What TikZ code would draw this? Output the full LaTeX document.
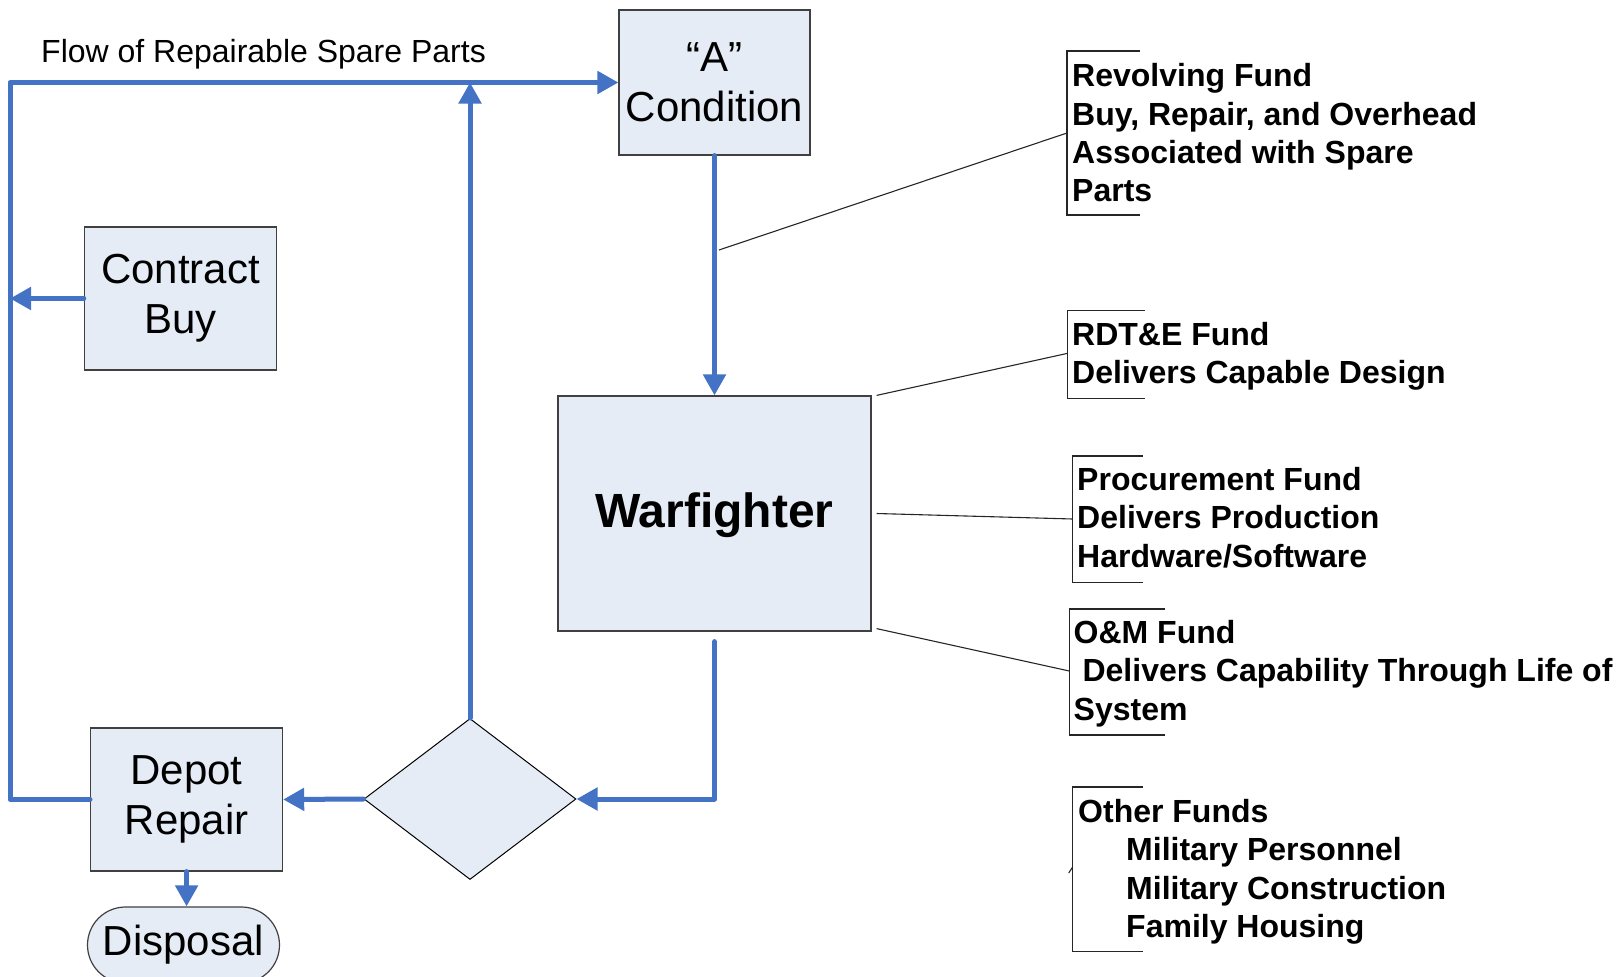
\documentclass[tikz,border=0pt]{standalone}
\usepackage{fontspec}
\setmainfont{Liberation Sans}
\usetikzlibrary{arrows.meta,shapes.geometric}

\definecolor{flowblue}{RGB}{68,114,196}
\definecolor{boxfill}{RGB}{230,236,246}

\tikzset{
    box/.style={draw=black!75, line width=1.2pt, fill=boxfill, align=center,
        inner sep=0pt, font=\fontsize{42}{50}\selectfont},
    flow/.style={draw=flowblue, line width=5pt, line cap=round, line join=round,
        -{Triangle[length=21pt,width=22pt]}},
    note/.style={anchor=north west, align=left, inner sep=0pt,
        font=\bfseries\fontsize{32}{38.4}\selectfont},
    leader/.style={draw=black!85, line width=1.1pt},
}

\begin{document}
\begin{tikzpicture}[x=1pt,y=-1pt]
        \useasboundingbox (0,0) rectangle (1617,977);

        % Draw the boxes
        \node[box, minimum width=191pt, minimum height=145pt] (cond) at (714.5,82.5) {“A”\\Condition};
        \node[box, minimum width=192pt, minimum height=143pt] (buy) at (180.4,298.5) {Contract\\Buy};
        \node[box, minimum width=313pt, minimum height=235pt, text depth=6pt,
            font=\bfseries\fontsize{48}{58}\selectfont] (warf) at (714.5,513.5) {Warfighter};
        \node[box, minimum width=192pt, minimum height=143pt] (dep) at (186.6,799.5) {Depot\\Repair};
        \node[box, minimum width=192pt, minimum height=76pt, rounded corners=38pt] (disp) at (183.5,945) {Disposal};
        \node[box, diamond, draw=black, line width=1pt, aspect=1.317,
            minimum width=212pt, minimum height=161pt] (dia) at (470,799) {};

        \node[anchor=base west, inner sep=0pt, font=\fontsize{32}{38}\selectfont] (flowlbl) at (41,62.7) {Flow of Repairable Spare Parts};

        % Draw the flow of spare parts
        \coordinate (rail) at (10,82.5);
        \draw[flow] (dep.west) -- (dep.west -| rail) -- (rail) -- (cond.west);
        \draw[flow] (buy.west) -- (buy.west -| rail);
        \draw[flow] (dia.north) -- (dia.north |- cond.west);
        \draw[flow] (cond.south) -- (warf.north);
        \draw[flow] ([yshift=-10pt]warf.south) |- (dia.east);
        \draw[flow] (dia.west) -- (dep.east);
        \draw[flow] (dep.south) -- (dep.south |- disp.north);

        % Fund notes
        \node[note] (rev) at (1072,63.4) {Revolving Fund\\Buy, Repair, and Overhead\\Associated with Spare\\Parts};
        \node[note] (rdte) at (1072,322) {RDT\&E Fund\\Delivers Capable Design};
        \node[note] (proc) at (1077,467) {Procurement Fund\\Delivers Production\\Hardware/Software};
        \node[note] (om) at (1073.5,620) {O\&M Fund\\~Delivers Capability Through Life of\\System};
        \node[note] (other) at (1078,799) {Other Funds\\\hspace*{48pt}Military Personnel\\\hspace*{48pt}Military Construction\\\hspace*{48pt}Family Housing};

        % Brackets round the notes
        \draw[leader] (1140,51) -- (1067,51) -- (1067,215) -- (1140,215);
        \draw[leader] (1145,310.7) -- (1067.7,310.7) -- (1067.7,398.3) -- (1145,398.3);
        \draw[leader] (1142.7,456) -- (1072.7,456) -- (1072.7,582.7) -- (1142.7,582.7);
        \draw[leader] (1165,609) -- (1069.3,609) -- (1069.3,735) -- (1165,735);
        \draw[leader] (1142.7,787) -- (1072.7,787) -- (1072.7,951.7) -- (1142.7,951.7);

        % Leader lines
        \coordinate (revmid) at (1067,133);
        \coordinate (rdtemid) at (1067.7,353.3);
        \coordinate (procmid) at (1072.7,519);
        \coordinate (ommid) at (1069.3,671);
        \coordinate (othermid) at (1072.7,867);
        \draw[leader] (revmid) -- (719,250);
        \draw[leader] (rdtemid) -- ([xshift=5pt]warf.north east);
        \draw[leader] (procmid) -- ([xshift=5pt]warf.east);
        \draw[leader] (ommid) -- ([xshift=5pt,yshift=3pt]warf.south east);
        \draw[leader] (othermid) -- ++(-4,6);
\end{tikzpicture}
\end{document}
